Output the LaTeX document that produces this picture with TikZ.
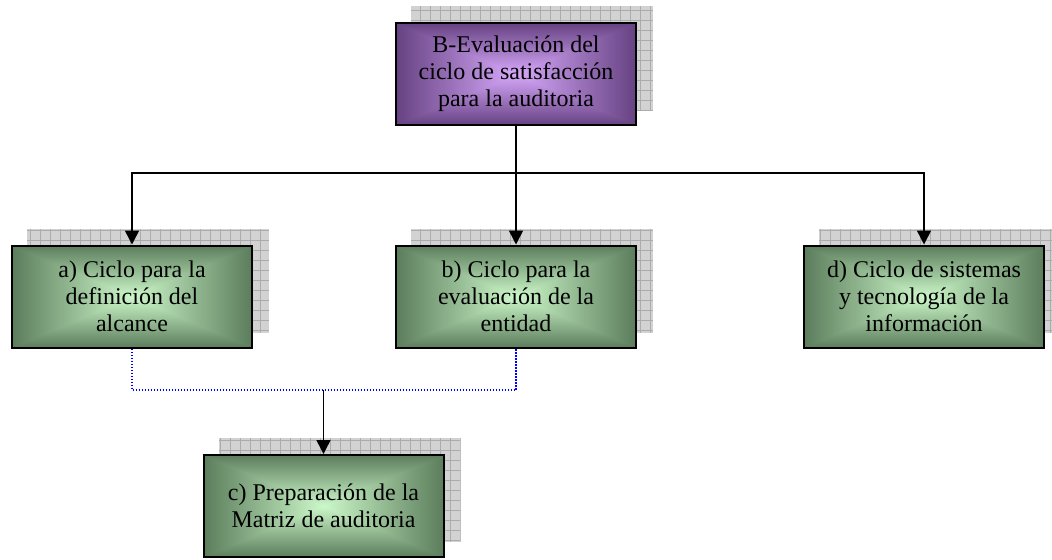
\documentclass[tikz,border=0pt]{standalone}
\usepackage{fontspec}
\setmainfont{Liberation Serif}
\usetikzlibrary{arrows.meta,backgrounds}

\pgfdeclarefunctionalshading{greenglow}{\pgfpoint{-50bp}{-50bp}}{\pgfpoint{50bp}{50bp}}{}{
  abs exch abs 2 copy lt {exch} if pop 25 div dup 1 gt {pop 1} if
  dup 0.44 mul 0.80 exch sub exch
  dup 0.48 mul 0.97 exch sub exch
  0.43 mul 0.79 exch sub
}
\pgfdeclarefunctionalshading{purpleglow}{\pgfpoint{-50bp}{-50bp}}{\pgfpoint{50bp}{50bp}}{}{
  abs exch abs 2 copy lt {exch} if pop 25 div dup 1 gt {pop 1} if
  dup 0.44 mul 0.84 exch sub exch
  dup 0.40 mul 0.66 exch sub exch
  0.47 mul 0.98 exch sub
}

\tikzstyle{tile} = [rectangle, minimum width = 120pt, minimum height = 51pt, draw = black, line width = 1pt, align = center, shade, font = \fontsize{12}{13.5}\selectfont]
\tikzstyle{leaf} = [tile, shading = greenglow]
\tikzstyle{root} = [tile, shading = purpleglow]
\tikzstyle{link} = [-{Triangle[length = 7pt, width = 7pt]}, line width = 0.75pt]
\tikzstyle{dots} = [blue, line width = 0.6pt, dash pattern = on 0.6pt off 0.9pt]

\begin{document}
\begin{tikzpicture}[x = 0.5pt, y = -0.5pt]
    \useasboundingbox (0,0) rectangle (1052,559);
    \node (eval)   [root] at (516,74)    {B-Evaluación del\\ciclo de satisfacción\\para la auditoria};
    \node (cicloA) [leaf] at (132,296.5) {a) Ciclo para la\\definición del\\alcance};
    \node (cicloB) [leaf] at (516,296.5) {b) Ciclo para la\\evaluación de la\\entidad};
    \node (cicloD) [leaf] at (924,296.5) {d) Ciclo de sistemas\\y tecnología de la\\información};
    \node (matriz) [leaf] at (323.5,506) {c) Preparación de la\\Matriz de auditoria};
    % grid shadows behind the boxes
    \begin{scope}[on background layer]
        \foreach \n in {eval,cicloA,cicloB,cicloD,matriz} {
            \begin{scope}
                \clip ([shift={(16,-16)}]\n.south west) rectangle ([shift={(16,-16)}]\n.north east);
                \fill [gray!35] ([shift={(16,-16)}]\n.south west) rectangle ([shift={(16,-16)}]\n.north east);
                \draw [gray!65, line width = 0.4pt, step = 5pt] ([shift={(16,-16)}]\n.south west) grid ([shift={(16,-16)}]\n.north east);
            \end{scope}
        }
    \end{scope}
    \coordinate (bus)  at (516,173);
    \coordinate (join) at (323.5,390);
    \draw [link] (eval) -- (bus) -| (cicloA);
    \draw [link] (bus) -- (cicloB);
    \draw [link] (bus) -| (cicloD);
    \draw [dots] (cicloA) |- (join) -| (cicloB);
    \draw [link] (join) -- (matriz);
\end{tikzpicture}
\end{document}
